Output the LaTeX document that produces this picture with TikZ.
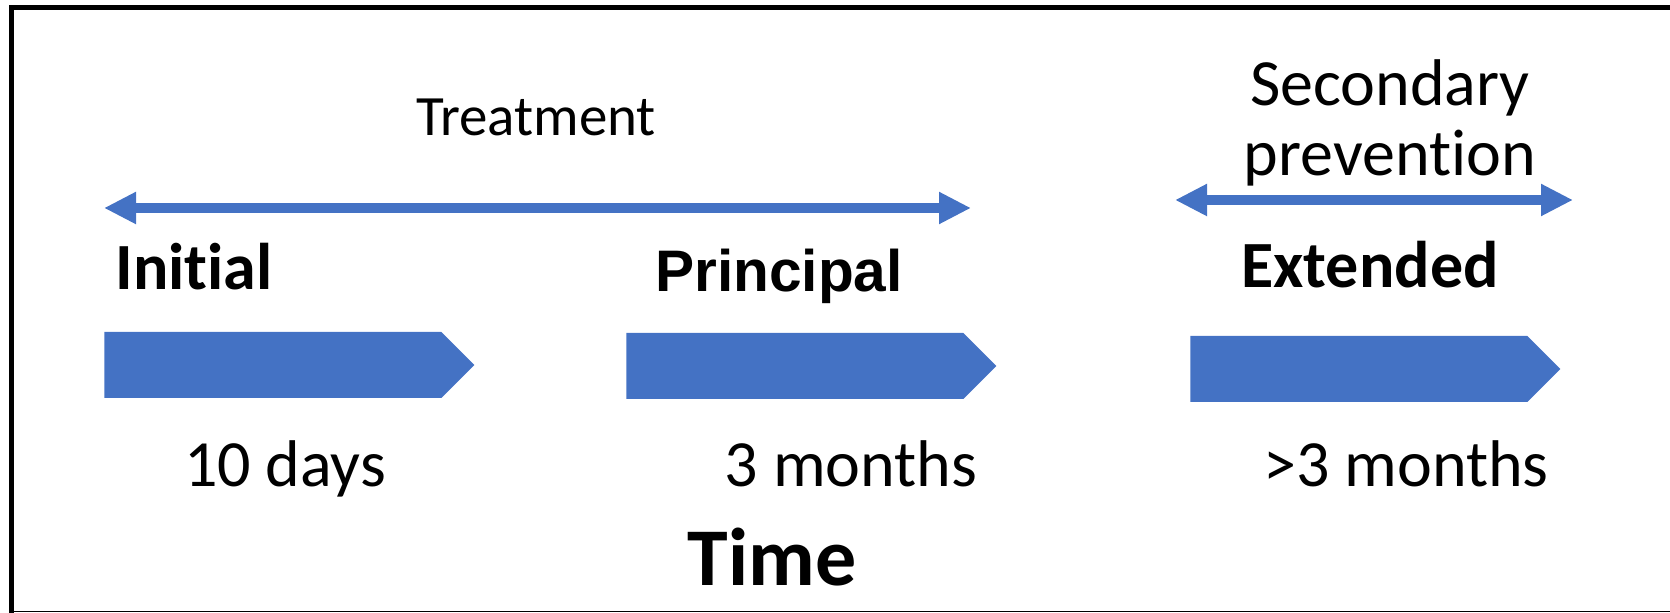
\documentclass[tikz,border=0pt]{standalone}
\usepackage{fontspec}
\setmainfont[Ligatures=NoCommon]{Carlito}
\newfontfamily\arialfont{Liberation Sans}
\usetikzlibrary{positioning, arrows.meta, shapes.symbols}

\definecolor{phaseblue}{HTML}{4472C4}

\begin{document}
\begin{tikzpicture}[x=0.5pt, y=-0.5pt,
	phase/.style={signal, signal to=east, signal pointer angle=90, fill=phaseblue,
		minimum width=185pt, minimum height=33pt, inner sep=0pt, anchor=west},
	spanarrow/.style={draw=phaseblue, line width=5pt,
		{Triangle[length=16pt, width=15pt]}-{Triangle[length=16pt, width=15pt]}},
	stage/.style={font=\bfseries\fontsize{33}{40}\selectfont, anchor=base},
	period/.style={font=\fontsize{33}{40}\selectfont, anchor=base},
]
\useasboundingbox (0,0) rectangle (1670,613);
% frame, open on the right
\draw[line width=2.5pt] (11.5,613) -- (11.5,7.5) -- (1670,7.5);
\draw[line width=0.7pt] (14,611.5) -- (1670,611.5);

% spans over the phases
\coordinate (treatL) at (104,208);
\coordinate (treatR) at (971,208);
\coordinate (secL) at (1175,200);
\coordinate (secR) at (1573,200);
\draw[spanarrow] (treatL) -- (treatR);
\draw[spanarrow] (secL) -- (secR);
\node[font=\fontsize{28.5}{34}\selectfont, anchor=base] (treat) at (536,136) {Treatment};
\node[font=\fontsize{33}{35}\selectfont, align=center, anchor=base] (sec) at (1390,176) {Secondary\\prevention};

% phase blocks and their durations
\foreach \n/\x/\y/\dx/\d in {init/104/365/285/10 days, princ/626/366/851/3 months, ext/1190/369/1406/>3 months} {
	\node[phase] (\n) at (\x,\y) {};
	\node[period] (\n dur) at (\dx,487) {\d};
}
\node[stage, anchor=base west, inner sep=0pt] (initlab) at (115,290) {Initial};
\node[stage, font=\arialfont\bfseries\fontsize{29.3}{35}\selectfont] (princlab) at (779,292) {Principal};
\node[stage] (extlab) at (1370,288) {Extended};
\node[font=\bfseries\fontsize{41}{48}\selectfont, anchor=base] (time) at (772,586) {Time};
\end{tikzpicture}
\end{document}
